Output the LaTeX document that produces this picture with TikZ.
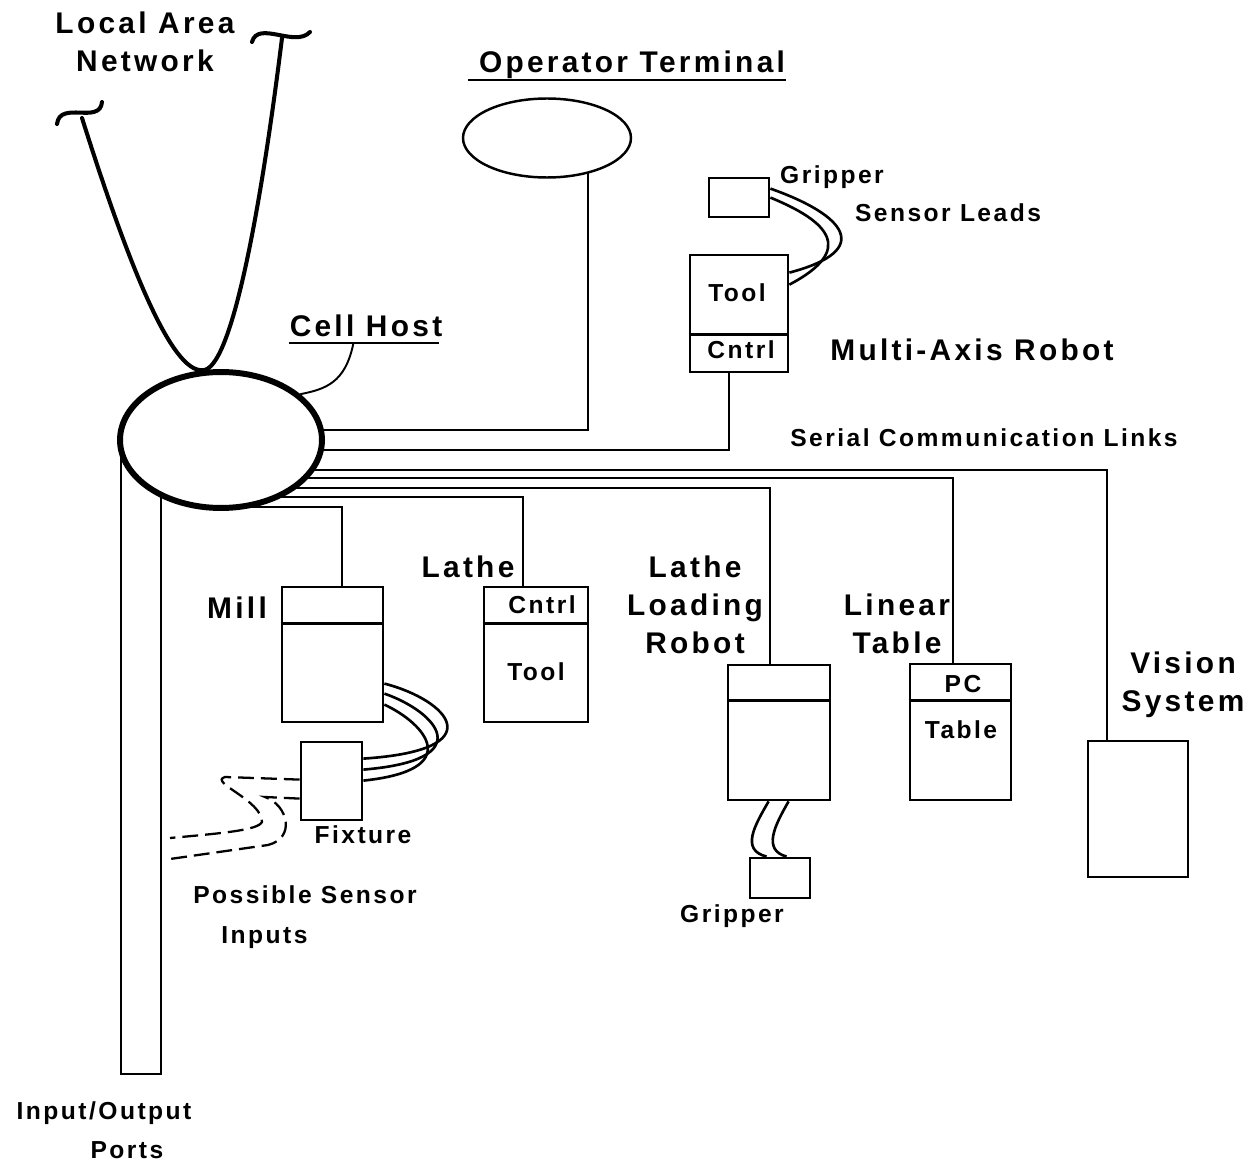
\documentclass[tikz,border=0pt]{standalone}
\usepackage{fontspec}
\setmainfont{Liberation Sans}
\newfontfamily\bigface{Liberation Sans Bold}[LetterSpace=11]
\newfontfamily\smallface{Liberation Sans Bold}[LetterSpace=10]
\usetikzlibrary{shapes.geometric,calc,backgrounds}

\begin{document}
\begin{tikzpicture}[x=0.02cm, y=-0.02cm,
    big/.style = {font=\bigface\fontsize{17}{21.8}\selectfont, align=center},
    small/.style = {font=\smallface\fontsize{14}{22.5}\selectfont},
    unit/.style = {draw, line width=1.6pt, inner sep=0pt},
    host/.style = {ellipse, draw, fill=white, line width=3.4pt, inner sep=0pt},
    link/.style = {line width=1.1pt},
    cable/.style = {line width=1.5pt},
    lan/.style = {line width=2.3pt, line cap=round},
    probe/.style = {line width=1.3pt, dash pattern=on 9pt off 4pt}]
    \useasboundingbox (0,0) rectangle (1255,1162);
    % cell host and operator terminal
    \node[host, minimum width=4.04cm, minimum height=2.72cm] (host) at (221,440) {};
    \node[host, line width=1.4pt, minimum width=3.36cm, minimum height=1.58cm] (term) at (547,138) {};
    % units
    \node[unit, minimum width=1.2cm, minimum height=0.78cm] (rgrip) at (739,197.5) {};
    \node[unit, minimum width=1.96cm, minimum height=2.34cm] (robot) at (739,313.5) {};
    \node[unit, minimum width=2.02cm, minimum height=2.7cm] (mill) at (332.5,654.5) {};
    \node[unit, minimum width=2.08cm, minimum height=2.7cm] (lathe) at (536,654.5) {};
    \node[unit, minimum width=1.22cm, minimum height=1.56cm] (fix) at (331.5,781) {};
    \node[unit, minimum width=2.04cm, minimum height=2.7cm] (llr) at (779,732.5) {};
    \node[unit, minimum width=1.2cm, minimum height=0.8cm] (lgrip) at (780,878) {};
    \node[unit, minimum width=2.02cm, minimum height=2.72cm] (table) at (960.5,732) {};
    \node[unit, minimum width=2cm, minimum height=2.72cm] (vision) at (1138,809) {};
    \foreach \bx/\dy in {mill/38, lathe/38, llr/37, table/38}
        \draw[unit] ($(\bx.north west)+(0,\dy)$) -- ($(\bx.north east)+(0,\dy)$);
    \draw[unit] ($(robot.south west)+(0,-39)$) -- ($(robot.south east)+(0,-39)$);

    % labels
    \node[big] (lanlbl) at (145,42) {Local Area\\Network};
    \node[big, anchor=base] (oplbl) at (632,73) {Operator Terminal};
    \node[big, anchor=base] (hostlbl) at (366,337) {Cell Host};
    \node[big, anchor=base] (robotlbl) at (972,360) {Multi-Axis Robot};
    \node[big, anchor=base] (milllbl) at (237,618) {Mill};
    \node[big, anchor=base] (lathelbl) at (468,577) {Lathe};
    \node[big] (llrlbl) at (695,605) {Lathe\\Loading\\Robot};
    \node[big] (tablelbl) at (897,624) {Linear\\Table};
    \node[big] (visionlbl) at (1183,685) {Vision\\System};
    \node[small, anchor=base] (rgriplbl) at (832,184) {Gripper};
    \node[small, anchor=base] (leadslbl) at (948,222) {Sensor Leads};
    \node[small, anchor=base] (seriallbl) at (984,446) {Serial Communication Links};
    \node[small, anchor=base] (rtool) at (737,302) {Tool};
    \node[small, anchor=base] (rcntrl) at (741,358) {Cntrl};
    \node[small, anchor=base] (lcntrl) at (542,613) {Cntrl};
    \node[small, anchor=base] (ltool) at (536,680) {Tool};
    \node[small, anchor=base] (pc) at (963,692) {PC};
    \node[small, anchor=base] (ttable) at (961,738) {Table};
    \node[small, anchor=base] (fixlbl) at (363,843) {Fixture};
    \node[small, anchor=base] (lgriplbl) at (732,922) {Gripper};
    \node[small, align=left] (sensorlbl) at (305,917) {Possible Sensor\\\hspace*{16pt}Inputs};
    \node[small, align=left] (portslbl) at (104,1130) {Input/Output\\\hspace*{42pt}Ports};

    % underlines and leader
    \draw[link] ($(oplbl.base west)+(-5,7)$) -- ($(oplbl.base east)+(-5,7)$);
    \coordinate (hostul) at ($(hostlbl.base west)+(5,6)$);
    \coordinate (hostur) at ($(hostlbl.base east)+(-9,6)$);
    \draw[link] (hostul) -- (hostur);
    \draw[link] ($(hostul)!0.43!(hostur)$) .. controls +(-8,40) and +(25,-5) .. (host.30);

    % serial links, ports and network
    \begin{pgfonlayer}{background}
        \node[unit, minimum width=0.8cm, minimum height=12.64cm] (ports) at (141,758) {};
        \coordinate (kTerm) at (588,430);
        \coordinate (kRobot) at (729,450);
        \coordinate (kVision) at (1107,470);
        \coordinate (kTable) at (953,478);
        \coordinate (kLLR) at (770,488);
        \coordinate (kLathe) at (523,497);
        \coordinate (kMill) at (342,507);
        \coordinate (kMillS) at (248,507);
        \draw[link] (term.center -| kTerm) -- (kTerm) -- (host.center |- kTerm);
        \draw[link] (robot.south -| kRobot) -- (kRobot) -- (host.center |- kRobot);
        \foreach \nm/\kk in {vision/kVision, table/kTable, llr/kLLR, lathe/kLathe}
            \draw[link] (host.center |- \kk) -| (\nm.north -| \kk);
        \draw[link] (kMillS) -| (mill.north -| kMill);
        \coordinate (lanL) at (82,118);
        \coordinate (lanR) at (282,38);
        \draw[lan] (lanL) .. controls (130,270) and (172,372) .. (host.105)
            .. controls (232,372) and (262,200) .. (lanR);
    \end{pgfonlayer}
    \draw[lan] (57,124) .. controls (60,100) and (100,125) .. (102,102);
    \draw[lan] (252,42) .. controls (258,20) and (295,48) .. (310,32);

    % sensor leads and cables
    \draw[cable] ($(rgrip.north east)+(0,12)$) .. controls (845,215) and (875,250) .. ($(robot.north east)+(0,19)$);
    \draw[cable] ($(rgrip.north east)+(0,21)$) .. controls (830,222) and (855,250) .. ($(robot.north east)+(0,31)$);
    \draw[cable] ($(mill.north east)+(0,98)$) .. controls (448,700) and (495,750) .. ($(fix.north east)+(0,18)$);
    \draw[cable] ($(mill.north east)+(0,108)$) .. controls (437,712) and (480,760) .. ($(fix.north east)+(0,29)$);
    \draw[cable] ($(mill.north east)+(0,119)$) .. controls (426,724) and (465,770) .. ($(fix.north east)+(0,40)$);
    \draw[cable] ($(llr.south west)+(42,0)$) .. controls (755,825) and (740,850) .. ($(lgrip.north west)+(18,0)$);
    \draw[cable] ($(llr.south west)+(62,0)$) .. controls (775,825) and (762,850) .. ($(lgrip.north west)+(38,0)$);

    % possible sensor inputs
    \coordinate (pA) at (170,838);
    \coordinate (pB) at (170,859);
    \draw[probe] ($(fix.north west)+(0,39)$) -- (225,777) .. controls (208,782) and (262,800) .. (262,822)
        .. controls (258,830) and (225,833) .. (pA);
    \draw[probe] ($(fix.north west)+(0,58)$) -- (265,797) .. controls (288,805) and (296,838) .. (268,845) -- (pB);
\end{tikzpicture}
\end{document}
